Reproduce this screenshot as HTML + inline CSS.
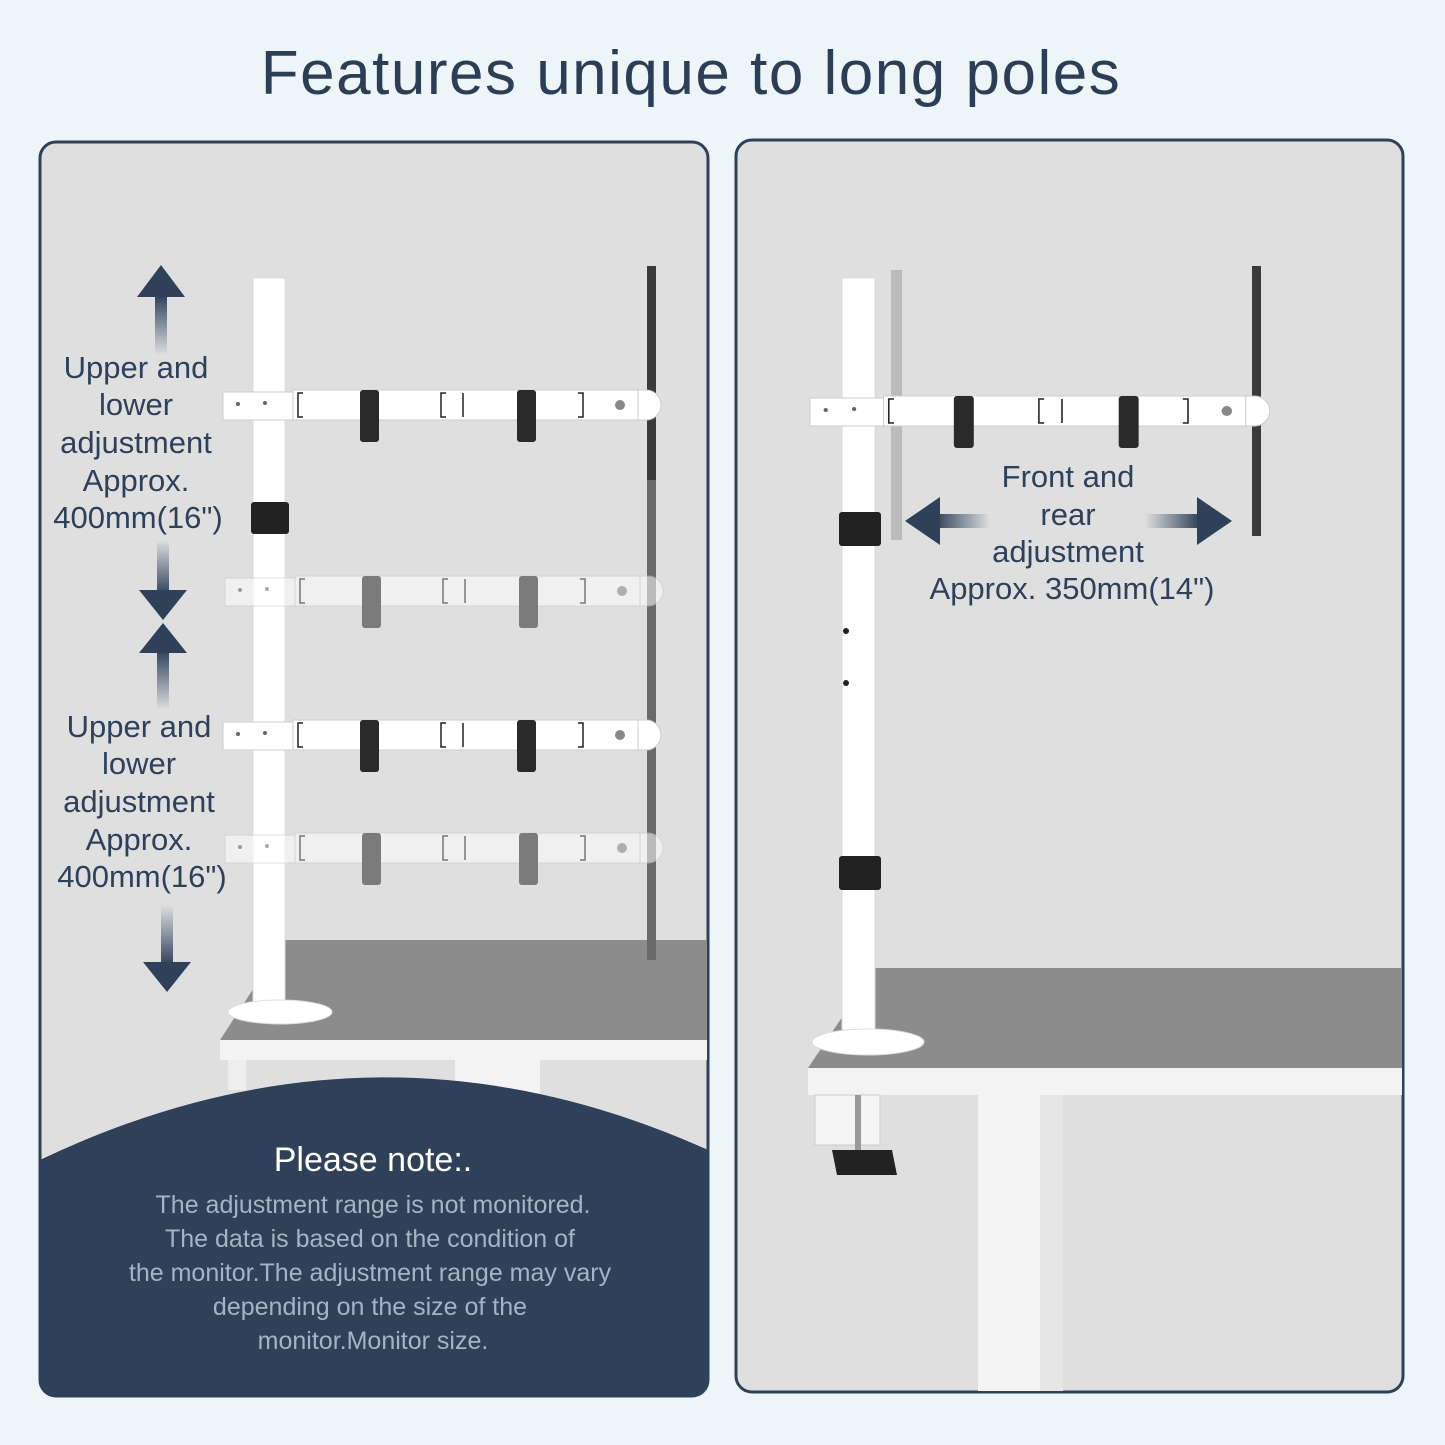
<!DOCTYPE html>
<html><head><meta charset="utf-8"><style>
body{margin:0;width:1445px;height:1445px;background:#eef5f9;overflow:hidden}
svg{display:block}
text{font-family:"Liberation Sans",sans-serif}
</style></head><body>
<svg width="1445" height="1445" viewBox="0 0 1445 1445">
<defs>
<linearGradient id="gu" x1="0" y1="0" x2="0" y2="1"><stop offset="0" stop-color="#2e4159"/><stop offset="1" stop-color="#2e4159" stop-opacity="0"/></linearGradient>
<linearGradient id="gd" x1="0" y1="1" x2="0" y2="0"><stop offset="0" stop-color="#2e4159"/><stop offset="1" stop-color="#2e4159" stop-opacity="0"/></linearGradient>
<linearGradient id="gl" x1="0" y1="0" x2="1" y2="0"><stop offset="0" stop-color="#2e4159"/><stop offset="1" stop-color="#2e4159" stop-opacity="0"/></linearGradient>
<linearGradient id="gr" x1="1" y1="0" x2="0" y2="0"><stop offset="0" stop-color="#2e4159"/><stop offset="1" stop-color="#2e4159" stop-opacity="0"/></linearGradient>
<clipPath id="cl"><rect x="41" y="143" width="666" height="1252" rx="14"/></clipPath>
<clipPath id="cr"><rect x="737" y="141" width="665" height="1250" rx="14"/></clipPath>
<g id="arm">
<rect x="0" y="2" width="72" height="28" fill="#fff" stroke="#ccc"/>
<circle cx="15" cy="14" r="2" fill="#666"/><circle cx="42" cy="13" r="2" fill="#666"/>
<rect x="70" y="0" width="345" height="30" fill="#fff" stroke="#ccc"/>
<path d="M415 0 h8 a15 15 0 0 1 0 30 h-8z" fill="#fff" stroke="#ccc"/>
<circle cx="397" cy="15" r="5" fill="#888"/>
<path d="M80 3 h-5 v24 h5 M223 3 h-5 v24 h5 M240 3 v24 M355 3 h5 v24 h-5" fill="none" stroke="#222" stroke-width="1.5"/>
<rect x="137" y="0" width="19" height="52" rx="3" fill="#2a2a2a"/>
<rect x="294" y="0" width="19" height="52" rx="3" fill="#2a2a2a"/>
</g>
</defs>
<text x="691" y="94" text-anchor="middle" font-size="62" letter-spacing="1.5" fill="#2c3e55">Features unique to long poles</text>
<!-- left panel -->
<rect x="40" y="142" width="668" height="1254" rx="16" fill="#e0dfe0" stroke="#2e4159" stroke-width="3"/>
<g clip-path="url(#cl)">
<rect x="455" y="1060" width="85" height="60" fill="#f3f3f3"/>
<polygon points="285,940 707,940 707,1040 220,1040" fill="#8c8c8c"/>
<rect x="220" y="1040" width="490" height="20" fill="#f3f3f3"/>
<rect x="228" y="1060" width="18" height="30" fill="#eee"/>
<rect x="253" y="278" width="32" height="732" fill="#fff" stroke="#ddd"/>
<ellipse cx="280" cy="1012" rx="52" ry="12" fill="#fff" stroke="#ddd"/>
<rect x="251" y="502" width="38" height="32" rx="3" fill="#222"/>
<rect x="647" y="266" width="9" height="694" fill="#3a3a3a"/>
<rect x="647" y="480" width="9" height="480" fill="#888" opacity=".6"/>
<use href="#arm" x="223" y="390"/>
<use href="#arm" x="225" y="576" opacity=".55"/>
<use href="#arm" x="223" y="720"/>
<use href="#arm" x="225" y="833" opacity=".55"/>
<path d="M40 1160 Q375 1000 708 1150 V1400 H40Z" fill="#2e4159"/>
</g>
<text x="373" y="1171" text-anchor="middle" font-size="34" fill="#fff">Please note:.</text>
<g font-size="25" fill="#a7b3c2" text-anchor="middle">
<text x="373" y="1213">The adjustment range is not monitored.</text>
<text x="370" y="1247">The data is based on the condition of</text>
<text x="370" y="1281">the monitor.The adjustment range may vary</text>
<text x="370" y="1315">depending on the size of the</text>
<text x="373" y="1349">monitor.Monitor size.</text>
</g>
<!-- arrows left -->
<rect x="155" y="295" width="12" height="60" fill="url(#gu)"/><polygon points="137,297 161,265 185,297" fill="#2e4159"/>
<rect x="157" y="540" width="12" height="55" fill="url(#gd)"/><polygon points="139,590 163,620 187,590" fill="#2e4159"/>
<rect x="157" y="650" width="12" height="60" fill="url(#gu)"/><polygon points="139,653 163,623 187,653" fill="#2e4159"/>
<rect x="161" y="905" width="12" height="60" fill="url(#gd)"/><polygon points="143,962 167,992 191,962" fill="#2e4159"/>
<g font-size="31" fill="#2e4159" text-anchor="middle">
<text x="136" y="378">Upper and</text><text x="136" y="415">lower</text><text x="136" y="453">adjustment</text><text x="136" y="491">Approx.</text><text x="138" y="528">400mm(16")</text>
<text x="139" y="737">Upper and</text><text x="139" y="774">lower</text><text x="139" y="812">adjustment</text><text x="139" y="850">Approx.</text><text x="142" y="887">400mm(16")</text>
</g>
<!-- right panel -->
<rect x="736" y="140" width="667" height="1252" rx="16" fill="#e0dfe0" stroke="#2e4159" stroke-width="3"/>
<g clip-path="url(#cr)">
<rect x="978" y="1095" width="85" height="300" fill="#f3f3f3"/>
<rect x="1040" y="1095" width="23" height="300" fill="#e6e6e6"/>
<polygon points="875,968 1402,968 1402,1068 808,1068" fill="#8c8c8c"/>
<rect x="808" y="1068" width="595" height="27" fill="#f3f3f3"/>
<rect x="815" y="1095" width="65" height="50" fill="#f5f5f5" stroke="#ccc"/>
<rect x="855" y="1095" width="6" height="60" fill="#999"/>
<path d="M832 1150 h60 l5 25 h-60z" fill="#222"/>
<rect x="842" y="278" width="33" height="752" fill="#fff" stroke="#ddd"/>
<ellipse cx="868" cy="1042" rx="56" ry="13" fill="#fff" stroke="#ddd"/>
<rect x="839" y="512" width="42" height="34" rx="3" fill="#222"/>
<rect x="839" y="856" width="42" height="34" rx="3" fill="#222"/>
<circle cx="846" cy="631" r="3" fill="#222"/><circle cx="846" cy="683" r="3" fill="#222"/>
<rect x="891" y="270" width="11" height="270" fill="#bbb"/>
<rect x="1252" y="266" width="9" height="270" fill="#3a3a3a"/>
<use href="#arm" x="810" y="396" transform="translate(810 396) scale(1.05 1) translate(-810 -396)"/>
</g>
<rect x="935" y="514" width="55" height="14" fill="url(#gl)"/><polygon points="905,521 940,497 940,545" fill="#2e4159"/>
<rect x="1145" y="514" width="55" height="14" fill="url(#gr)"/><polygon points="1232,521 1197,497 1197,545" fill="#2e4159"/>
<g font-size="31" fill="#2e4159" text-anchor="middle">
<text x="1068" y="487">Front and</text><text x="1068" y="525">rear</text><text x="1068" y="562">adjustment</text><text x="1072" y="599">Approx. 350mm(14")</text>
</g>
</svg>
</body></html>
